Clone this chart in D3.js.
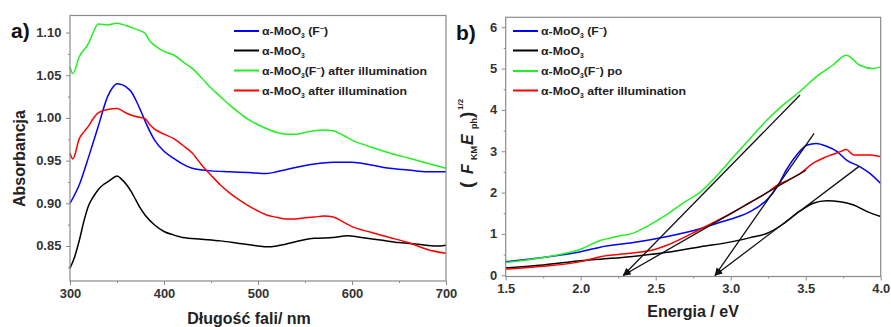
<!DOCTYPE html>
<html><head><meta charset="utf-8">
<script src="https://cdn.jsdelivr.net/npm/d3@7"></script>
<style>
body{margin:0;background:#fff;}
svg text{font-family:Arial,"Liberation Sans",sans-serif;font-weight:bold;}
</style>
</head><body>
<svg id="chart" width="891" height="327"></svg>
<script>
// ---------- Panel a data (wavelength nm, absorbance) ----------
const aBlueWl  = [300,310,320,330,340,345,350,355,360,365,370,375,380,390,400,410,420,430,440,450,470,490,510,520,540,560,580,600,620,640,660,680,700];
const aBlueAbs = [0.900,0.922,0.955,0.990,1.025,1.035,1.040,1.039,1.036,1.031,1.021,1.009,0.996,0.974,0.961,0.953,0.946,0.941,0.939,0.938,0.937,0.936,0.935,0.937,0.942,0.946,0.948,0.948,0.945,0.941,0.939,0.937,0.937];
const aBlackWl  = [300,305,310,315,320,325,330,335,340,345,350,355,360,365,370,375,380,390,400,410,420,440,460,480,500,510,520,540,560,580,595,610,630,650,670,690,700];
const aBlackAbs = [0.824,0.8375,0.857,0.880,0.898,0.908,0.916,0.9215,0.925,0.929,0.932,0.928,0.922,0.914,0.904,0.894,0.886,0.8746,0.867,0.863,0.860,0.858,0.856,0.853,0.850,0.849,0.850,0.855,0.859,0.860,0.862,0.860,0.857,0.854,0.852,0.850,0.851];
const aGreenWl  = [300,303,310,320,325,330,340,350,360,370,380,385,390,400,410,420,430,440,450,460,470,480,490,500,510,520,530,540,550,560,570,580,590,600,620,640,660,680,700];
const aGreenAbs = [1.060,1.052,1.072,1.088,1.101,1.110,1.109,1.111,1.108,1.104,1.099,1.090,1.085,1.078,1.074,1.066,1.058,1.047,1.035,1.025,1.015,1.006,0.998,0.992,0.987,0.983,0.981,0.981,0.983,0.985,0.986,0.985,0.980,0.974,0.966,0.959,0.953,0.947,0.941];
const aRedWl  = [300,303,310,315,320,325,330,340,350,360,370,380,385,390,400,410,420,430,440,450,460,470,480,490,500,510,520,530,540,550,560,570,580,590,600,620,640,660,680,700];
const aRedAbs = [0.959,0.952,0.976,0.984,0.991,0.9997,1.006,1.010,1.011,1.0055,1.0016,0.999,0.992,0.987,0.981,0.976,0.968,0.959,0.945,0.933,0.9215,0.912,0.904,0.897,0.891,0.886,0.8836,0.8817,0.8817,0.883,0.884,0.885,0.884,0.8785,0.8727,0.866,0.860,0.854,0.846,0.8414];
const aXTicks = [300,400,500,600,700];
const aXMinor = [350,450,550,650];
const aYTicks = [0.85,0.90,0.95,1.00,1.05,1.10];
const aYMinor = [0.825,0.875,0.925,0.975,1.025,1.075];

// ---------- Panel b data (energy eV, (F_KM E_ph)^1/2) ----------
const bBlueE = [1.5,1.75,2.0,2.13,2.35,2.57,2.8,2.91,3.02,3.13,3.24,3.31,3.37,3.44,3.51,3.57,3.64,3.71,3.77,3.86,3.93,4.0];
const bBlueV = [0.33,0.43,0.57,0.68,0.79,0.93,1.13,1.26,1.38,1.54,1.82,2.14,2.54,2.91,3.15,3.19,3.12,2.99,2.79,2.63,2.46,2.22];
const bBlackE = [1.5,1.75,2.0,2.13,2.33,2.53,2.8,3.02,3.13,3.24,3.35,3.46,3.55,3.64,3.73,3.82,3.91,4.0];
const bBlackV = [0.18,0.25,0.35,0.39,0.45,0.53,0.69,0.82,0.91,1.01,1.24,1.55,1.74,1.80,1.78,1.70,1.54,1.42];
const bGreenE = [1.5,1.75,2.0,2.13,2.17,2.24,2.35,2.46,2.57,2.68,2.8,2.91,3.02,3.13,3.24,3.35,3.46,3.57,3.68,3.77,3.86,3.95,4.0];
const bGreenV = [0.31,0.43,0.63,0.84,0.88,0.94,1.02,1.22,1.46,1.74,2.02,2.42,2.87,3.31,3.75,4.12,4.44,4.80,5.08,5.32,5.08,5.00,5.04];
const bRedE = [1.5,1.75,2.0,2.13,2.33,2.48,2.57,2.8,3.02,3.13,3.24,3.31,3.37,3.46,3.55,3.64,3.73,3.77,3.82,3.93,4.0];
const bRedV = [0.15,0.22,0.33,0.45,0.53,0.61,0.72,1.12,1.53,1.76,1.99,2.18,2.28,2.45,2.71,2.87,2.99,3.04,2.91,2.91,2.87];
// tangent (Tauc) lines: start at v=0, end point
const tanStartE = [2.285, 2.285, 2.896, 2.896];
const tanStartV = [0, 0, 0, 0];
const tanEndE   = [3.462, 3.502, 3.556, 3.858];
const tanEndV   = [4.36, 2.54, 3.43, 2.64];
const bXTicks = [1.5,2.0,2.5,3.0,3.5,4.0];
const bXMinor = [1.75,2.25,2.75,3.25,3.75];
const bYTicks = [0,1,2,3,4,5,6];
const bYMinor = [0.5,1.5,2.5,3.5,4.5,5.5];

// ---------- legend / series metadata ----------
const seriesColors = ["#0000ff","#000000","#22f022","#ff0000"];
const aLegend = [
  ["α-MoO",{sub:"3"}," (F",{sup:"−"},")"],
  ["α-MoO",{sub:"3"}],
  ["α-MoO",{sub:"3"},"(F",{sup:"−"},") after illumination"],
  ["α-MoO",{sub:"3"}," after illumination"]
];
const bLegend = [
  ["α-MoO",{sub:"3"}," (F",{sup:"−"},")"],
  ["α-MoO",{sub:"3"}],
  ["α-MoO",{sub:"3"},"(F",{sup:"−"},") po"],
  ["α-MoO",{sub:"3"}," after illumination"]
];

const svg = d3.select("#chart");
const FRAME = "#8a8a8a", TICKTXT = "#333";

function addRich(textSel, parts, size) {
  let shift = 0;
  parts.forEach(p => {
    const t = textSel.append("tspan");
    if (typeof p === "string") { t.text(p).attr("font-size", size).attr("dy", -shift); shift = 0; }
    else if (p.sub) { t.text(p.sub).attr("font-size", size*0.55).attr("dy", 3 - shift); shift = 3; }
    else if (p.sup) { t.text(p.sup).attr("font-size", size*0.6).attr("dy", -4 - shift); shift = -4; }
  });
}

function styleAxis(g, labels) {
  g.select(".domain").remove();
  g.selectAll(".tick line").attr("stroke", FRAME);
  g.selectAll(".tick text").attr("fill", TICKTXT).attr("font-size", 12)
   .attr("font-family", "Arial, 'Liberation Sans', sans-serif").attr("font-weight","bold");
  if (labels) g.selectAll(".tick text").attr("transform","scale(1.08,1)");
}

function panel(cfg) {
  const g = svg.append("g");
  const x = cfg.x, y = cfg.y;
  const [x0,x1] = x.range(), [y0,y1] = y.range();
  g.append("g").attr("transform",`translate(0,${y0})`)
   .call(d3.axisBottom(x).tickValues(cfg.xTicks).tickFormat(cfg.xFmt).tickSize(4).tickPadding(4))
   .call(s => styleAxis(s, true));
  g.append("g").attr("transform",`translate(0,${y0})`)
   .call(d3.axisBottom(x).tickValues(cfg.xMinor).tickFormat("").tickSize(2))
   .call(s => styleAxis(s, false));
  g.append("g").attr("transform",`translate(${x0},0)`)
   .call(d3.axisLeft(y).tickValues(cfg.yTicks).tickFormat(cfg.yFmt).tickSize(4).tickPadding(4))
   .call(s => styleAxis(s, true));
  g.append("g").attr("transform",`translate(${x0},0)`)
   .call(d3.axisLeft(y).tickValues(cfg.yMinor).tickFormat("").tickSize(2))
   .call(s => styleAxis(s, false));
  const line = d3.line().x(d => x(d[0])).y(d => y(d[1])).curve(d3.curveMonotoneX);
  cfg.series.forEach((s, i) => {
    const pts = s.xs.map((v, k) => [v, s.ys[k]]);
    g.append("path").datum(pts).attr("d", line).attr("fill","none")
     .attr("stroke", seriesColors[i]).attr("stroke-width", 1.5).attr("stroke-linejoin","round");
  });
  g.append("rect").attr("x", x0).attr("y", y1).attr("width", x1-x0).attr("height", y0-y1)
   .attr("fill","none").attr("stroke", FRAME).attr("stroke-width", 1.2);
  cfg.legend.forEach((parts, i) => {
    const ly = cfg.legY[i];
    g.append("line").attr("x1", cfg.legX).attr("x2", cfg.legX + 25).attr("y1", ly).attr("y2", ly)
     .attr("stroke", seriesColors[i]).attr("stroke-width", 2);
    const t = g.append("text").attr("transform", `translate(${cfg.legX + 28},${ly + 4}) scale(1.07,1)`)
     .attr("fill", "#222");
    addRich(t, parts, 11.5);
  });
  return g;
}

// ---------- Panel a ----------
const xA = d3.scaleLinear().domain([300,700]).range([70,446]);
const yA = d3.scaleLinear().domain([0.809,1.12]).range([281,15.5]);
panel({
  x: xA, y: yA, xTicks: aXTicks, xMinor: aXMinor, yTicks: aYTicks, yMinor: aYMinor,
  xFmt: d3.format("d"), yFmt: d3.format(".2f"),
  series: [
    {xs: aBlueWl, ys: aBlueAbs}, {xs: aBlackWl, ys: aBlackAbs},
    {xs: aGreenWl, ys: aGreenAbs}, {xs: aRedWl, ys: aRedAbs}
  ],
  legend: aLegend, legX: 234, legY: [31, 50.5, 70.5, 90.5]
});

// ---------- Panel b ----------
const xB = d3.scaleLinear().domain([1.5,4.0]).range([505.7,880.7]);
const yB = d3.scaleLinear().domain([-0.03,6.24]).range([276.5,17.3]);
const gB = panel({
  x: xB, y: yB, xTicks: bXTicks, xMinor: bXMinor, yTicks: bYTicks, yMinor: bYMinor,
  xFmt: d3.format(".1f"), yFmt: d3.format("d"),
  series: [
    {xs: bBlueE, ys: bBlueV}, {xs: bBlackE, ys: bBlackV},
    {xs: bGreenE, ys: bGreenV}, {xs: bRedE, ys: bRedV}
  ],
  legend: bLegend, legX: 513, legY: [31, 50.5, 71, 90.5]
});

const defs = svg.append("defs");
defs.append("marker").attr("id","arrow").attr("viewBox","0 0 10 10").attr("refX",9).attr("refY",5)
  .attr("markerWidth",8).attr("markerHeight",8).attr("orient","auto-start-reverse")
  .attr("markerUnits","userSpaceOnUse")
  .append("path").attr("d","M0,1 L10,5 L0,9 Z").attr("fill","#111");
tanStartE.forEach((e, i) => {
  gB.append("line")
    .attr("x1", xB(e)).attr("y1", yB(tanStartV[i]))
    .attr("x2", xB(tanEndE[i])).attr("y2", yB(tanEndV[i]))
    .attr("stroke","#111").attr("stroke-width",1.3)
    .attr("marker-start","url(#arrow)");
});

// ---------- titles ----------
svg.append("text").attr("x", 249).attr("y", 324).attr("text-anchor","middle")
  .attr("font-size", 16).attr("fill","#222").text("Długość fali/ nm");
svg.append("text").attr("transform","translate(25,158.5) rotate(-90)").attr("text-anchor","middle")
  .attr("font-size", 16).attr("fill","#222").text("Absorbancja");
svg.append("text").attr("x", 693).attr("y", 317).attr("text-anchor","middle")
  .attr("font-size", 16).attr("fill","#222").text("Energia / eV");

const yl = svg.append("text").attr("transform","translate(473,190) rotate(-90)").attr("fill","#222");
[
  {t:"(", x:2, y:0, s:19},
  {t:"F", x:16, y:0, s:16, it:true},
  {t:"KM", x:30, y:4, s:9},
  {t:"E", x:45, y:0, s:16, it:true},
  {t:"ph", x:61, y:4, s:9},
  {t:")", x:72, y:0, s:19},
  {t:"1/2", x:80, y:-10, s:8}
].forEach(p => {
  yl.append("tspan").attr("x", p.x).attr("y", p.y).attr("font-size", p.s)
    .attr("font-style", p.it ? "italic" : "normal").text(p.t);
});

svg.append("text").attr("x", 11).attr("y", 38).attr("font-size", 21).attr("fill","#111").text("a)");
svg.append("text").attr("x", 456).attr("y", 40).attr("font-size", 21).attr("fill","#111").text("b)");
</script>
</body></html>
